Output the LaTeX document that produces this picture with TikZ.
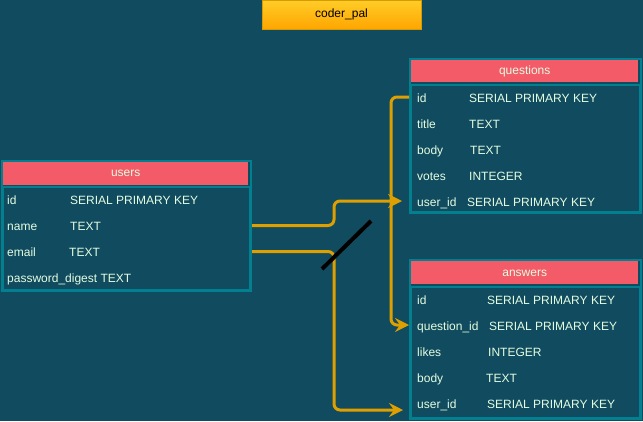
\documentclass[tikz,border=0pt]{standalone}
\usepackage{fontspec}
\setmainfont{Liberation Sans}
\usepackage{xcolor}
\usetikzlibrary{arrows.meta, positioning, calc}

\definecolor{canvas}{HTML}{114B5F}
\definecolor{tealline}{HTML}{028090}
\definecolor{headred}{HTML}{F45B69}
\definecolor{paletext}{HTML}{E4FDE1}
\definecolor{linkgold}{HTML}{DDA000}
\definecolor{titletop}{HTML}{FFCD28}
\definecolor{titlebot}{HTML}{FFA500}
\definecolor{titleline}{HTML}{D79B00}

\begin{document}
\begin{tikzpicture}[
    x=1pt, y=-1pt,
    titlebox/.style={rectangle, draw=titleline, top color=titletop, bottom color=titlebot, minimum width=159pt, minimum height=29pt, inner sep=0pt, font=\fontsize{12}{14}\selectfont, text=black},
    tablebox/.style={rectangle, draw=tealline, line width=2pt, fill=canvas, anchor=north west, inner sep=0pt},
    tablehead/.style={rectangle, fill=headred, anchor=north west, inner sep=0pt, text height=7pt, text depth=0pt, font=\fontsize{12}{14}\selectfont, text=paletext},
    tablebody/.style={rectangle, draw=tealline, line width=2pt, anchor=north west, inner sep=0pt},
    field/.style={anchor=base west, inner sep=0pt, text height=11pt, text depth=1pt, font=\fontsize{12}{14}\selectfont, text=paletext},
    link/.style={draw=linkgold, line width=3pt, rounded corners=6pt, -{Stealth[length=14pt, width=14pt, inset=5pt]}}
]

\fill[canvas] (0,0) rectangle (643,421);
\useasboundingbox (0,0) rectangle (643,421);

\node[titlebox] (title) at (341.5,14.5) {coder\_pal};

% users table
\node[tablebox, minimum width=249pt, minimum height=130pt] (u-box) at (1,160) {};
\node[tablehead, minimum width=245pt, minimum height=23pt] (u-head) at (3,161.5) {users};
\node[tablebody, minimum width=247pt, minimum height=103pt] (u-body) at (2,186) {};
\node[field] (u-id) at (7,204.5) {id};
\node[field] (u-id-type) at (70,204.5) {SERIAL PRIMARY KEY};
\node[field] (u-name) at (7,230.5) {name};
\node[field] (u-name-type) at (70,230.5) {TEXT};
\node[field] (u-email) at (7,256.5) {email};
\node[field] (u-email-type) at (69,256.5) {TEXT};
\node[field] (u-pwd) at (7,282.5) {password\_digest TEXT};

% questions table
\node[tablebox, minimum width=231pt, minimum height=154pt] (q-box) at (409,58) {};
\node[tablehead, minimum width=227pt, minimum height=22pt] (q-head) at (411,60) {questions};
\node[tablebody, minimum width=229pt, minimum height=127pt] (q-body) at (410,84) {};
\node[field] (q-id) at (417,102) {id};
\node[field] (q-id-type) at (469,102) {SERIAL PRIMARY KEY};
\node[field] (q-title) at (417,128) {title};
\node[field] (q-title-type) at (469,128) {TEXT};
\node[field] (q-body-f) at (417,154) {body};
\node[field] (q-body-type) at (470,154) {TEXT};
\node[field] (q-votes) at (417,180) {votes};
\node[field] (q-votes-type) at (469,180) {INTEGER};
\node[field] (q-userid) at (417,206) {user\_id};
\node[field] (q-userid-type) at (467,206) {SERIAL PRIMARY KEY};

% answers table
\node[tablebox, minimum width=231pt, minimum height=158.5pt] (a-box) at (409,259) {};
\node[tablehead, minimum width=227pt, minimum height=23pt] (a-head) at (411,261) {answers};
\node[tablebody, minimum width=229pt, minimum height=130.5pt] (a-body) at (410,286) {};
\node[field] (a-id) at (417,304) {id};
\node[field] (a-id-type) at (487,304) {SERIAL PRIMARY KEY};
\node[field] (a-qid) at (417,330) {question\_id};
\node[field] (a-qid-type) at (489,330) {SERIAL PRIMARY KEY};
\node[field] (a-likes) at (417,356) {likes};
\node[field] (a-likes-type) at (488,356) {INTEGER};
\node[field] (a-body-f) at (417,382) {body};
\node[field] (a-body-type) at (486,382) {TEXT};
\node[field] (a-userid) at (417,408) {user\_id};
\node[field] (a-userid-type) at (487,408) {SERIAL PRIMARY KEY};

% relations
\draw[link, shorten >=7pt] (u-box.east |- u-name.west) -- ++(82,0) |- (q-box.west |- q-userid.west);
\draw[link, shorten >=6pt] (u-box.east |- u-email.west) -- ++(82,0) |- ($(a-box.west |- a-userid.west)+(0,7)$);
\draw[link] (q-box.west |- q-id.west) -- ++(-18,0) |- (a-box.west |- a-qid.west);

\draw[line width=4pt, black] (322,269) -- (371,221);

\end{tikzpicture}
\end{document}
